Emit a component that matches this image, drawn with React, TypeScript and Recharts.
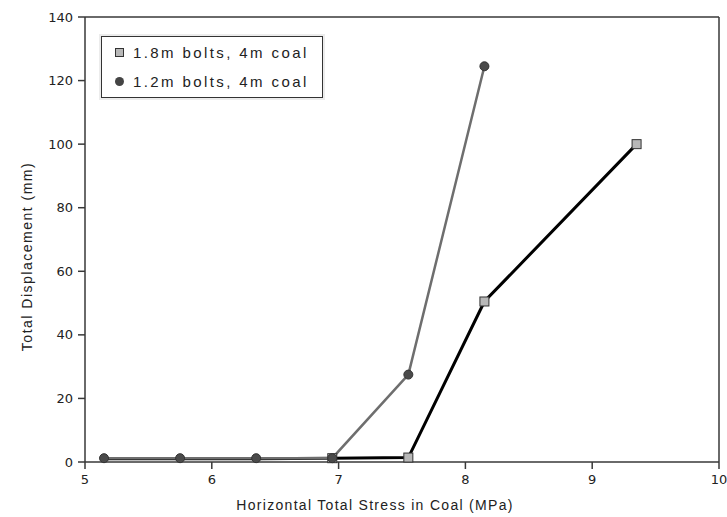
import React from "react";
import {
  LineChart,
  Line,
  XAxis,
  YAxis,
  Legend,
  ReferenceLine,
  Label,
} from "recharts";

const stress = [5.15, 5.75, 6.35, 6.95, 7.55, 8.15, 9.35];
const bolts18 = [1, 1, 1, 1.2, 1.4, 50.5, 100];
const bolts12 = [1.2, 1.2, 1.2, 1.2, 27.5, 124.5, null];
// square markers only show from 6.95 upward, the rest sit under the circles
const showSquare = [false, false, false, true, true, true, true];

const xTicks = [5, 6, 7, 8, 9, 10];
const yTicks = [0, 20, 40, 60, 80, 100, 120, 140];

const SERIES_18 = "1.8m bolts, 4m coal";
const SERIES_12 = "1.2m bolts, 4m coal";

const data = stress.map((x, i) => ({
  x,
  b18: bolts18[i],
  b12: bolts12[i],
  sq: showSquare[i],
}));

const FONT = "'DejaVu Sans', Verdana, sans-serif";
const TITLE_FONT = "'Liberation Sans', Arial, sans-serif";
const AXIS = "#383838";

function SquareDot(props: any) {
  const { cx, cy, payload } = props;
  if (!payload || !payload.sq || cx == null || cy == null) return null;
  return (
    <rect
      x={cx - 4.5}
      y={cy - 4.5}
      width={9}
      height={9}
      fill="#b8b8b8"
      stroke="#333"
      strokeWidth={1}
    />
  );
}

function CircleDot(props: any) {
  const { cx, cy } = props;
  if (cx == null || cy == null) return null;
  return <circle cx={cx} cy={cy} r={4.5} fill="#4a4a4a" stroke="#333" strokeWidth={1} />;
}

function LegendBox() {
  const row = { display: "flex", alignItems: "center", height: 29 };
  return (
    <div
      style={{
        border: "1.5px solid #333",
        background: "#fff",
        padding: "1px 6px 1px 13px",
        fontFamily: TITLE_FONT,
        fontSize: 15,
        color: "#222",
        letterSpacing: 2.4,
        width: 201,
        boxShadow: "0 0 0 2px #ececec",
      }}
    >
      <div style={row}>
        <span
          style={{
            width: 9,
            height: 9,
            background: "#b8b8b8",
            border: "1px solid #333",
            marginRight: 9,
            boxSizing: "border-box",
          }}
        />
        {SERIES_18}
      </div>
      <div style={row}>
        <span
          style={{
            width: 9,
            height: 9,
            borderRadius: "50%",
            background: "#444",
            marginRight: 9,
          }}
        />
        {SERIES_12}
      </div>
    </div>
  );
}

export default function App() {
  return (
    <div style={{ position: "absolute", left: 0, top: 0, background: "#fff" }}>
      <LineChart
        width={727}
        height={517}
        data={data}
        margin={{ top: 17, right: 8, left: 25, bottom: 15 }}
      >
        <XAxis
          dataKey="x"
          type="number"
          domain={[5, 10]}
          ticks={xTicks}
          stroke={AXIS}
          strokeWidth={1.5}
          tickSize={7}
          tickMargin={6}
          height={40}
          tick={{ fill: "#222", fontSize: 13, fontFamily: FONT }}
        >
          <Label
            value="Horizontal Total Stress in Coal (MPa)"
            position="bottom"
            offset={-2}
            dx={-27}
            style={{ fill: "#222", fontSize: 14, fontFamily: TITLE_FONT, letterSpacing: 1.3 }}
          />
        </XAxis>
        <YAxis
          type="number"
          domain={[0, 140]}
          ticks={yTicks}
          stroke={AXIS}
          strokeWidth={1.5}
          tickSize={7}
          tickMargin={5}
          width={60}
          tick={{ fill: "#222", fontSize: 13, fontFamily: FONT }}
        >
          <Label
            value="Total Displacement (mm)"
            angle={-90}
            position="insideLeft"
            offset={2}
            dy={17}
            style={{
              fill: "#222",
              fontSize: 14,
              fontFamily: TITLE_FONT,
              letterSpacing: 1.5,
              textAnchor: "middle",
            }}
          />
        </YAxis>
        <ReferenceLine y={140} stroke={AXIS} strokeWidth={1.5} />
        <ReferenceLine x={10} stroke={AXIS} strokeWidth={1.5} />
        <Legend
          layout="vertical"
          align="center"
          verticalAlign="middle"
          content={<LegendBox />}
          wrapperStyle={{ left: 101, top: 36, width: "auto" }}
        />
        <Line
          dataKey="b18"
          name={SERIES_18}
          stroke="#000"
          strokeWidth={3}
          dot={<SquareDot />}
          activeDot={false}
          isAnimationActive={false}
        />
        <Line
          dataKey="b12"
          name={SERIES_12}
          stroke="#6e6e6e"
          strokeWidth={2.5}
          dot={<CircleDot />}
          activeDot={false}
          isAnimationActive={false}
        />
      </LineChart>
    </div>
  );
}
